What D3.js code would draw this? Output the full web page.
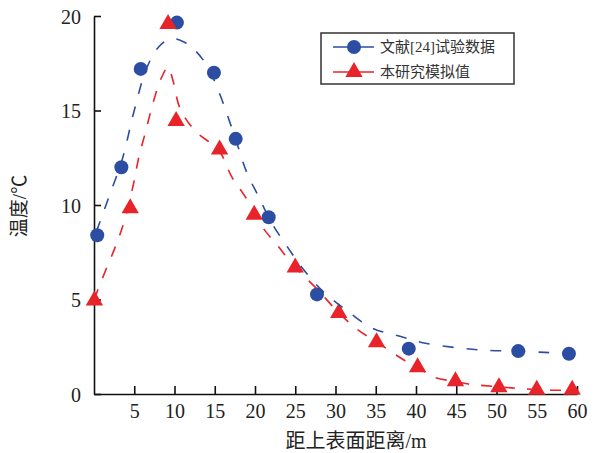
<!DOCTYPE html>
<html>
<head>
<meta charset="utf-8">
<script src="https://cdn.jsdelivr.net/npm/d3@7"></script>
<style>
  html, body { margin: 0; padding: 0; background: #fff; }
  svg { display: block; }
</style>
</head>
<body>
<div id="chart"></div>
<script>
// --- DONNÉES ---
// 文献[24]试验数据 (points)
const testX = [0.4, 3.4, 5.8, 10.3, 14.9, 17.6, 21.7, 27.7, 39.1, 52.7, 59.0];
const testY = [8.4, 12.0, 17.2, 19.65, 17.0, 13.5, 9.35, 5.27, 2.4, 2.27, 2.13];
// 文献[24] courbe lissée (pointillés)
const testCurveX = [0.3, 2, 3.5, 5, 6.5, 8, 9.6, 11.3, 12.5, 14, 15.5, 17.5, 19, 20.5, 22, 24, 26, 28.5, 31, 34.5, 38, 41, 45, 48.5, 52, 56, 59];
const testCurveY = [8.6, 10.6, 12.4, 15.0, 17.2, 18.35, 18.8, 18.6, 18.2, 17.4, 16.0, 13.6, 11.7, 10.4, 9.1, 7.8, 6.6, 5.4, 4.55, 3.5, 3.05, 2.7, 2.45, 2.32, 2.27, 2.2, 2.15];

// 本研究模拟值 (points)
const simX = [0.05, 4.5, 9.2, 10.2, 15.6, 19.9, 25.0, 30.4, 35.1, 40.2, 44.9, 50.3, 55.0, 59.4];
const simY = [4.95, 9.83, 19.58, 14.45, 12.94, 9.49, 6.69, 4.28, 2.74, 1.42, 0.68, 0.36, 0.22, 0.22];
// 本研究 courbe (pointillés)
const simCurveX = [0, 1.5, 2.8, 3.8, 4.9, 5.6, 6.3, 7.4, 8.4, 9.2, 9.8, 10.7, 12.6, 15.5, 17.1, 19.0, 20.9, 22.9, 25.0, 27.6, 30.4, 32.6, 35.1, 38.5, 40.2, 42.2, 44.9, 46.5, 50.3, 52.5, 57, 59.4];
const simCurveY = [5.0, 6.6, 7.95, 9.2, 11.1, 12.6, 13.7, 15.5, 16.75, 17.3, 16.6, 15.1, 13.9, 12.9, 11.5, 10.3, 8.85, 7.8, 6.7, 5.6, 4.3, 3.45, 2.75, 1.8, 1.42, 0.9, 0.66, 0.53, 0.38, 0.3, 0.2, 0.2];

const xTicks = [5, 10, 15, 20, 25, 30, 35, 40, 45, 50, 55, 60];
const yTicks = [0, 5, 10, 15, 20];
const legendLabels = ["文献[24]试验数据", "本研究模拟值"];

const BLUE = "#2b4ea2";
const RED = "#e8232a";
const NUM_FONT = "'Liberation Serif', 'Times New Roman', serif";
const CJK_FONT = "'Liberation Serif', 'Noto Sans CJK SC', serif";

// --- RENDU D3 ---
const width = 607, height = 453;
const svg = d3.select("#chart").append("svg")
    .attr("width", width).attr("height", height);

const x = d3.scaleLinear().domain([0, 60]).range([94, 577]);
const y = d3.scaleLinear().domain([0, 20]).range([394, 16]);

const zip = (xs, ys) => xs.map((v, i) => [v, ys[i]]);

// axes
const xAxis = svg.append("g").attr("transform", `translate(0,${y(0)})`)
    .call(d3.axisBottom(x).tickValues(xTicks).tickSize(-8).tickSizeOuter(0).tickPadding(10));
const yAxis = svg.append("g").attr("transform", `translate(${x(0)},0)`)
    .call(d3.axisLeft(y).tickValues(yTicks).tickSize(-7).tickSizeOuter(0).tickPadding(13));

[xAxis, yAxis].forEach(a => {
    a.select(".domain").attr("stroke", "#111").attr("stroke-width", 1.6);
    a.selectAll(".tick line").attr("stroke", "#111").attr("stroke-width", 1.6);
    a.selectAll(".tick text").attr("fill", "#222")
        .style("font-family", NUM_FONT).style("font-size", "20px");
});
yAxis.selectAll(".tick text").attr("dy", "0.35em");

// titres
svg.append("text")
    .attr("x", 356).attr("y", 448)
    .attr("text-anchor", "middle")
    .style("font-family", CJK_FONT).style("font-size", "20px").attr("fill", "#222")
    .text("距上表面距离/m");

svg.append("text")
    .attr("transform", "translate(26,206) rotate(-90)")
    .attr("text-anchor", "middle")
    .style("font-family", CJK_FONT).style("font-size", "19px").attr("fill", "#222")
    .text("温度/℃");

// marqueurs
const tri = d3.symbol().type(d3.symbolTriangle).size(130);

svg.append("g").selectAll("circle").data(zip(testX, testY)).join("circle")
    .attr("cx", d => x(d[0])).attr("cy", d => y(d[1]))
    .attr("r", 7).attr("fill", BLUE);

svg.append("g").selectAll("path").data(zip(simX, simY)).join("path")
    .attr("d", tri)
    .attr("transform", d => `translate(${x(d[0])},${y(d[1])})`)
    .attr("fill", RED);

// courbes en pointillés
const line = d3.line().x(d => x(d[0])).y(d => y(d[1])).curve(d3.curveCatmullRom.alpha(0.5));

svg.append("path").datum(zip(testCurveX, testCurveY))
    .attr("d", line).attr("fill", "none")
    .attr("stroke", BLUE).attr("stroke-width", 1.6).attr("stroke-dasharray", "11,13");

svg.append("path").datum(zip(simCurveX, simCurveY))
    .attr("d", line).attr("fill", "none")
    .attr("stroke", RED).attr("stroke-width", 1.6).attr("stroke-dasharray", "11,12");

// Légende
const lg = svg.append("g");
lg.append("rect")
    .attr("x", 321).attr("y", 33).attr("width", 193).attr("height", 51)
    .attr("fill", "#fff").attr("stroke", "#333").attr("stroke-width", 1.5);

[BLUE, RED].forEach((c, i) => {
    const yy = 47 + i * 25;
    lg.append("line").attr("x1", 333).attr("x2", 374).attr("y1", yy).attr("y2", yy)
        .attr("stroke", c).attr("stroke-width", 1.6);
    if (i === 0) {
        lg.append("circle").attr("cx", 354).attr("cy", yy).attr("r", 7).attr("fill", c);
    } else {
        lg.append("path").attr("d", tri).attr("transform", `translate(354,${yy})`).attr("fill", c);
    }
    lg.append("text").attr("x", 380).attr("y", yy).attr("dy", "0.35em")
        .style("font-family", CJK_FONT).style("font-size", "15px").attr("fill", "#333")
        .text(legendLabels[i]);
});
</script>
</body>
</html>
